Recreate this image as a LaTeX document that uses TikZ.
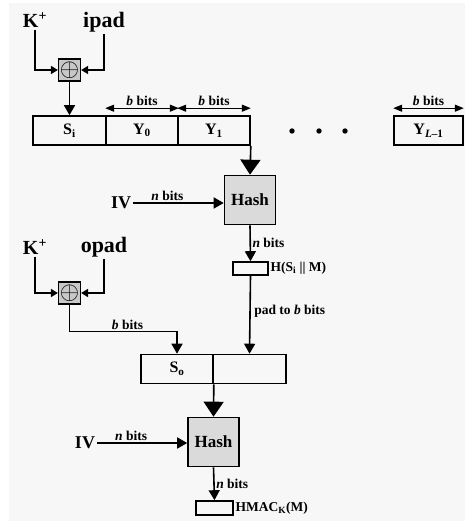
\documentclass[tikz,border=0pt]{standalone}
\usepackage{fontspec}
\setmainfont{Liberation Serif}
\usepackage{tikz}
\usetikzlibrary{arrows.meta,positioning}
\definecolor{bgGray}{RGB}{247,247,247}
\definecolor{hashGray}{RGB}{218,218,218}
\definecolor{xorGray}{RGB}{200,200,200}

\begin{document}
\begin{tikzpicture}[x=1pt, y=1pt, line width=1.6pt,
  cellbox/.style={draw, minimum height=29pt, inner sep=0pt, font=\fontsize{16}{18}\selectfont\bfseries},
  hashbox/.style={draw, fill=hashGray, minimum width=51pt, minimum height=49pt, inner sep=0pt, font=\fontsize{17}{19}\selectfont\bfseries},
  xorbox/.style={draw, fill=xorGray, minimum size=22pt, inner sep=0pt, line width=1.2pt, font=\fontsize{24}{24}\selectfont},
  outbox/.style={draw, minimum height=13pt, inner sep=0pt},
  bigtxt/.style={font=\fontsize{20}{22}\selectfont\bfseries, inner sep=1pt},
  lbl/.style={font=\fontsize{13.5}{15}\selectfont\bfseries, inner sep=1.5pt},
  arr/.style={-{Triangle[length=10pt,width=11pt]}},
  smallarr/.style={-{Triangle[length=7pt,width=8pt]}},
  bigarr/.style={-{Triangle[length=15pt,width=20pt]}},
  dblarr/.style={line width=1.3pt, {Triangle[length=9pt,width=7pt]}-{Triangle[length=9pt,width=7pt]}}]
\useasboundingbox (0,0) rectangle (467,521);
\fill[bgGray] (9,0) rectangle (465,518);

% inner hash
\node[bigtxt] (k1) at (35,501) {K\textsuperscript{+}};
\node[bigtxt, font=\fontsize{22}{24}\selectfont\bfseries] (ipad) at (104,499) {ipad};
\node[xorbox] (x1) at (69.5,451) {$\oplus$};
\draw[smallarr] (k1.south) |- (x1.west);
\draw[smallarr] (ipad.south) |- (x1.east);

\node[cellbox, minimum width=73pt] (si) at (69.5,390.5) {S\textsubscript{i}};
\node[cellbox, minimum width=72pt] (y0) at (142,390.5) {Y\textsubscript{0}};
\node[cellbox, minimum width=72pt] (y1) at (214,390.5) {Y\textsubscript{1}};
\node[cellbox, minimum width=69pt] (yl) at (428.5,390.5) {Y\textsubscript{\textit{L}–1}};
\foreach \dx in {292,319,345}
  \fill (\dx,390) circle (2.7pt);
\draw[arr] (x1.south) -- (si.north);
\draw[dblarr] ([yshift=7pt]y0.north west) -- ([yshift=7pt]y0.north east) node[midway, above, lbl] {\textit{b} bits};
\draw[dblarr] ([yshift=7pt]y1.north west) -- ([yshift=7pt]y1.north east) node[midway, above, lbl] {\textit{b} bits};
\draw[dblarr] ([yshift=7pt]yl.north west) -- ([yshift=7pt]yl.north east) node[midway, above, lbl] {\textit{b} bits};

\node[hashbox] (h1) at (250,321) {Hash};
\draw[bigarr] (y1.south east) -- (h1.north);
\node[bigtxt, font=\fontsize{18}{20}\selectfont\bfseries] (iv1) at (121,318) {IV};
\draw[arr] (iv1.east) -- (iv1.east -| h1.west) node[pos=0.38, above, lbl] {\textit{n} bits};
\node[outbox, minimum width=35pt] (hm) at (250.5,252.5) {};
\node[lbl, anchor=west, inner sep=1pt] (hml) at (hm.east) {H(S\textsubscript{i} || M)};
\draw[arr] (h1.south) -- (hm.north) node[midway, right, lbl] {\textit{n} bits};

% outer hash
\node[bigtxt] (k2) at (35,274) {K\textsuperscript{+}};
\node[bigtxt, font=\fontsize{22}{24}\selectfont\bfseries] (opad) at (104,274) {opad};
\node[xorbox] (x2) at (69.5,228) {$\oplus$};
\draw[smallarr] (k2.south) |- (x2.west);
\draw[smallarr] (opad.south) |- (x2.east);

\node[cellbox, minimum width=72pt] (so) at (177,152) {S\textsubscript{o}};
\node[cellbox, minimum width=73pt] (sm) at (249.5,152) {};
\draw[arr] (x2.south) -- ++(0,-27) -| (so.north) node[pos=0.27, above, lbl] {\textit{b} bits};
\draw[arr] (hm.south) -- (sm.north) node[pos=0.46, right, lbl, xshift=2pt] {pad to \textit{b} bits};

\node[hashbox] (h2) at (213.5,79) {Hash};
\draw[bigarr] (so.south east) -- (h2.north);
\node[bigtxt, font=\fontsize{18}{20}\selectfont\bfseries] (iv2) at (85,78) {IV};
\draw[arr] (iv2.east) -- (iv2.east -| h2.west) node[pos=0.38, above, lbl] {\textit{n} bits};
\node[outbox, minimum width=37pt, minimum height=14pt] (hmac) at (214.5,13) {};
\node[lbl, anchor=west, inner sep=1pt] (hmacl) at (hmac.east) {HMAC\textsubscript{K}(M)};
\draw[arr] (h2.south) -- (hmac.north) node[midway, right, lbl] {\textit{n} bits};
\end{tikzpicture}
\end{document}
